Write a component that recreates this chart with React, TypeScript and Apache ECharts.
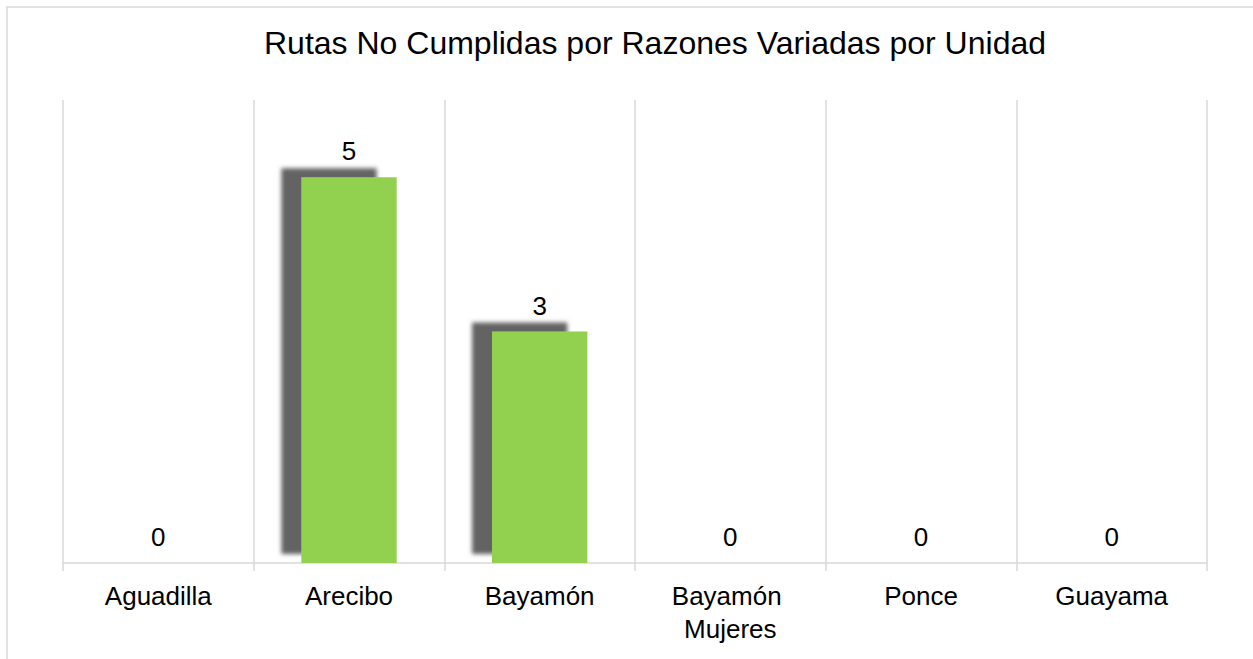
import React, { useEffect, useRef } from "react";
import * as echarts from "echarts";

const titleText = "Rutas No Cumplidas por Razones Variadas por Unidad";
const categories = ["Aguadilla", "Arecibo", "Bayamón", "Bayamón Mujeres", "Ponce", "Guayama"];
const values = [0, 5, 3, 0, 0, 0];

const FONT = 'Arial, "Liberation Sans", Helvetica, sans-serif';

export default function App() {
  const ref = useRef<HTMLDivElement>(null);
  useEffect(() => {
    if (!ref.current) return;
    const chart = echarts.init(ref.current, undefined, { renderer: "svg" });
    chart.setOption({
      animation: false,
      backgroundColor: "#ffffff",
      textStyle: { fontFamily: FONT },
      graphic: [
        {
          type: "rect",
          shape: { x: 7, y: 7, width: 1300, height: 700 },
          style: { fill: "none", stroke: "#d9d9d9", lineWidth: 1.5 },
          z: -1,
        },
        {
          type: "text",
          x: 655,
          y: 43,
          style: {
            text: titleText,
            fontSize: 32,
            fontFamily: FONT,
            fill: "#000000",
            align: "center",
            verticalAlign: "middle",
          },
        },
      ],
      grid: { left: 63, right: 46, top: 100, bottom: 96, containLabel: false },
      xAxis: {
        type: "category",
        data: categories,
        boundaryGap: true,
        axisLine: { show: true, lineStyle: { color: "#d9d9d9", width: 1.5 } },
        axisTick: { show: true, length: 8, alignWithLabel: false, lineStyle: { color: "#d9d9d9", width: 1.5 } },
        splitLine: { show: true, lineStyle: { color: "#d9d9d9", width: 1.5 } },
        axisLabel: {
          interval: 0,
          margin: 16,
          fontSize: 26,
          lineHeight: 33,
          color: "#000000",
          fontFamily: FONT,
          width: 175,
          overflow: "break",
        },
      },
      yAxis: {
        type: "value",
        min: 0,
        max: 6,
        interval: 1,
        show: false,
        splitLine: { show: false },
      },
      series: [
        {
          type: "bar",
          data: values,
          barWidth: "50%",
          itemStyle: {
            color: "#92d050",
            shadowColor: "rgba(90,90,90,0.95)",
            shadowBlur: 4,
            shadowOffsetX: -20,
            shadowOffsetY: -9,
          },
          label: {
            show: true,
            position: "top",
            distance: 13,
            fontSize: 26,
            lineHeight: 26,
            color: "#000000",
            fontFamily: FONT,
          },
        },
      ],
    });
    return () => chart.dispose();
  }, []);
  return (
    <div
      ref={ref}
      style={{ position: "absolute", left: 0, top: 0, width: 1253, height: 659 }}
    />
  );
}
